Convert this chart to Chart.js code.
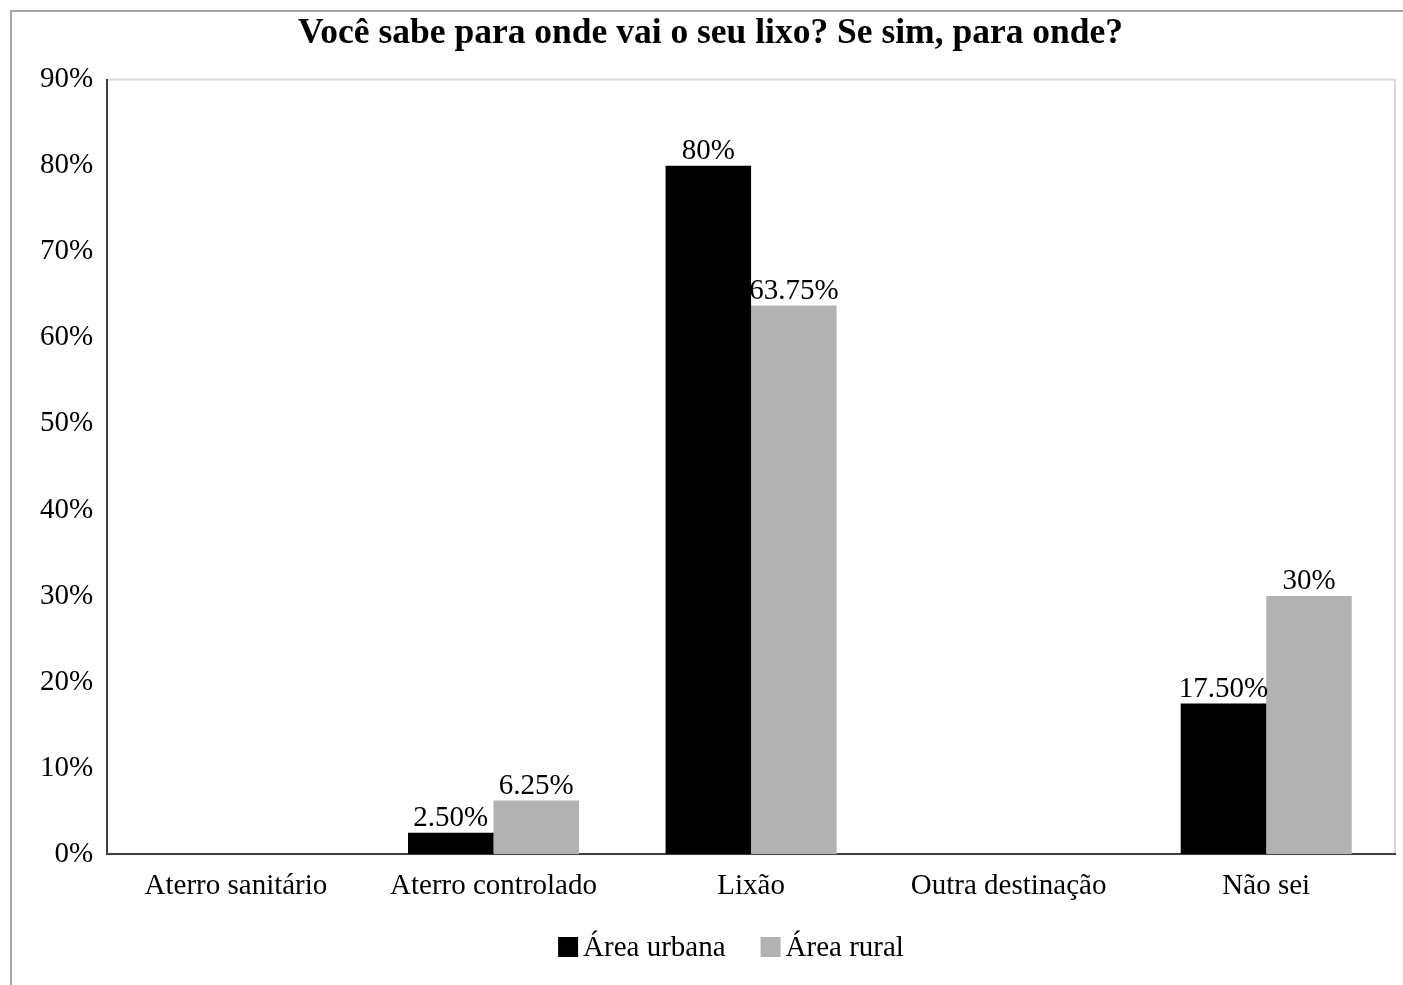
<!DOCTYPE html>
<html>
<head>
<meta charset="utf-8">
<script src="https://cdn.jsdelivr.net/npm/chart.js@4.4.1/dist/chart.umd.min.js"></script>
<style>
  html, body { margin: 0; padding: 0; background: #fff; }
  #wrap { width: 1403px; height: 985px; position: relative; }
</style>
</head>
<body>
<div id="wrap"><canvas id="lixoChart" width="1403" height="985"></canvas></div>
<script>
// Chart data
const chartTitle = "Você sabe para onde vai o seu lixo? Se sim, para onde?";
const categories = ["Aterro sanitário", "Aterro controlado", "Lixão", "Outra destinação", "Não sei"];
const urbana = [0, 2.5, 80, 0, 17.5];
const rural = [0, 6.25, 63.75, 0, 30];
const seriesNames = ["Área urbana", "Área rural"];
const seriesColors = ["#000000", "#b2b2b2"];

const serif = "'Liberation Serif', 'Times New Roman', serif";
const fontSize = 29;

// Format the values the way the original labels show them
const formatPct = (v) => (Number.isInteger(v) ? v + "%" : v.toFixed(2) + "%");

// Plugin: outer frame, plot box, value labels and legend
const decorations = {
  id: "decorations",
  beforeDraw(chart) {
    const ctx = chart.ctx;
    ctx.save();
    ctx.strokeStyle = "#a6a6a6";
    ctx.lineWidth = 2;
    ctx.beginPath();
    ctx.moveTo(11, 985);
    ctx.lineTo(11, 11);
    ctx.lineTo(1403, 11);
    ctx.stroke();
    const a = chart.chartArea;
    ctx.strokeStyle = "#d9d9d9";
    ctx.lineWidth = 2;
    ctx.strokeRect(a.left, a.top, a.right - a.left, a.bottom - a.top);
    ctx.restore();
  },
  afterDatasetsDraw(chart) {
    const ctx = chart.ctx;
    ctx.save();
    ctx.font = fontSize + "px " + serif;
    ctx.fillStyle = "#000";
    ctx.textAlign = "center";
    ctx.textBaseline = "bottom";
    chart.data.datasets.forEach((ds, i) => {
      chart.getDatasetMeta(i).data.forEach((bar, j) => {
        const v = ds.data[j];
        if (!v) return;
        ctx.fillText(formatPct(v), bar.x, bar.y);
      });
    });

    // Legend
    const box = 20;
    const gap = 5;
    const spacing = 35;
    const widths = seriesNames.map((n) => ctx.measureText(n).width);
    const total = widths.reduce((s, w) => s + box + gap + w, 0) + spacing * (seriesNames.length - 1);
    let x = 731 - total / 2;
    const y = 947;
    ctx.textAlign = "left";
    ctx.textBaseline = "middle";
    seriesNames.forEach((n, i) => {
      ctx.fillStyle = seriesColors[i];
      ctx.fillRect(x, y - box / 2, box, box);
      x += box + gap;
      ctx.fillStyle = "#000";
      ctx.fillText(n, x, y + 1);
      x += widths[i] + spacing;
    });
    ctx.restore();
  },
};

const ctx = document.getElementById("lixoChart").getContext("2d");
new Chart(ctx, {
  type: "bar",
  data: {
    labels: categories,
    datasets: [
      { label: seriesNames[0], data: urbana, backgroundColor: seriesColors[0] },
      { label: seriesNames[1], data: rural, backgroundColor: seriesColors[1] },
    ],
  },
  options: {
    responsive: false,
    animation: false,
    layout: { padding: { left: 26, right: 8, top: 0, bottom: 66 } },
    datasets: { bar: { categoryPercentage: 0.664, barPercentage: 1 } },
    scales: {
      x: {
        grid: { display: false, drawTicks: false },
        border: { display: true, color: "#404040", width: 2 },
        ticks: { color: "#000", font: { family: serif, size: fontSize }, padding: 15 },
      },
      y: {
        min: 0,
        max: 90,
        grid: { display: false, drawTicks: false },
        border: { display: true, color: "#404040", width: 2 },
        ticks: {
          stepSize: 10,
          color: "#000",
          font: { family: serif, size: fontSize },
          padding: 14,
          callback: (v) => v + "%",
        },
      },
    },
    plugins: {
      legend: { display: false },
      tooltip: { enabled: false },
      title: {
        display: true,
        text: chartTitle,
        color: "#000",
        font: { family: serif, size: 35.5, weight: "bold" },
        padding: { top: 13, bottom: 24 },
      },
    },
  },
  plugins: [decorations],
});
</script>
</body>
</html>
